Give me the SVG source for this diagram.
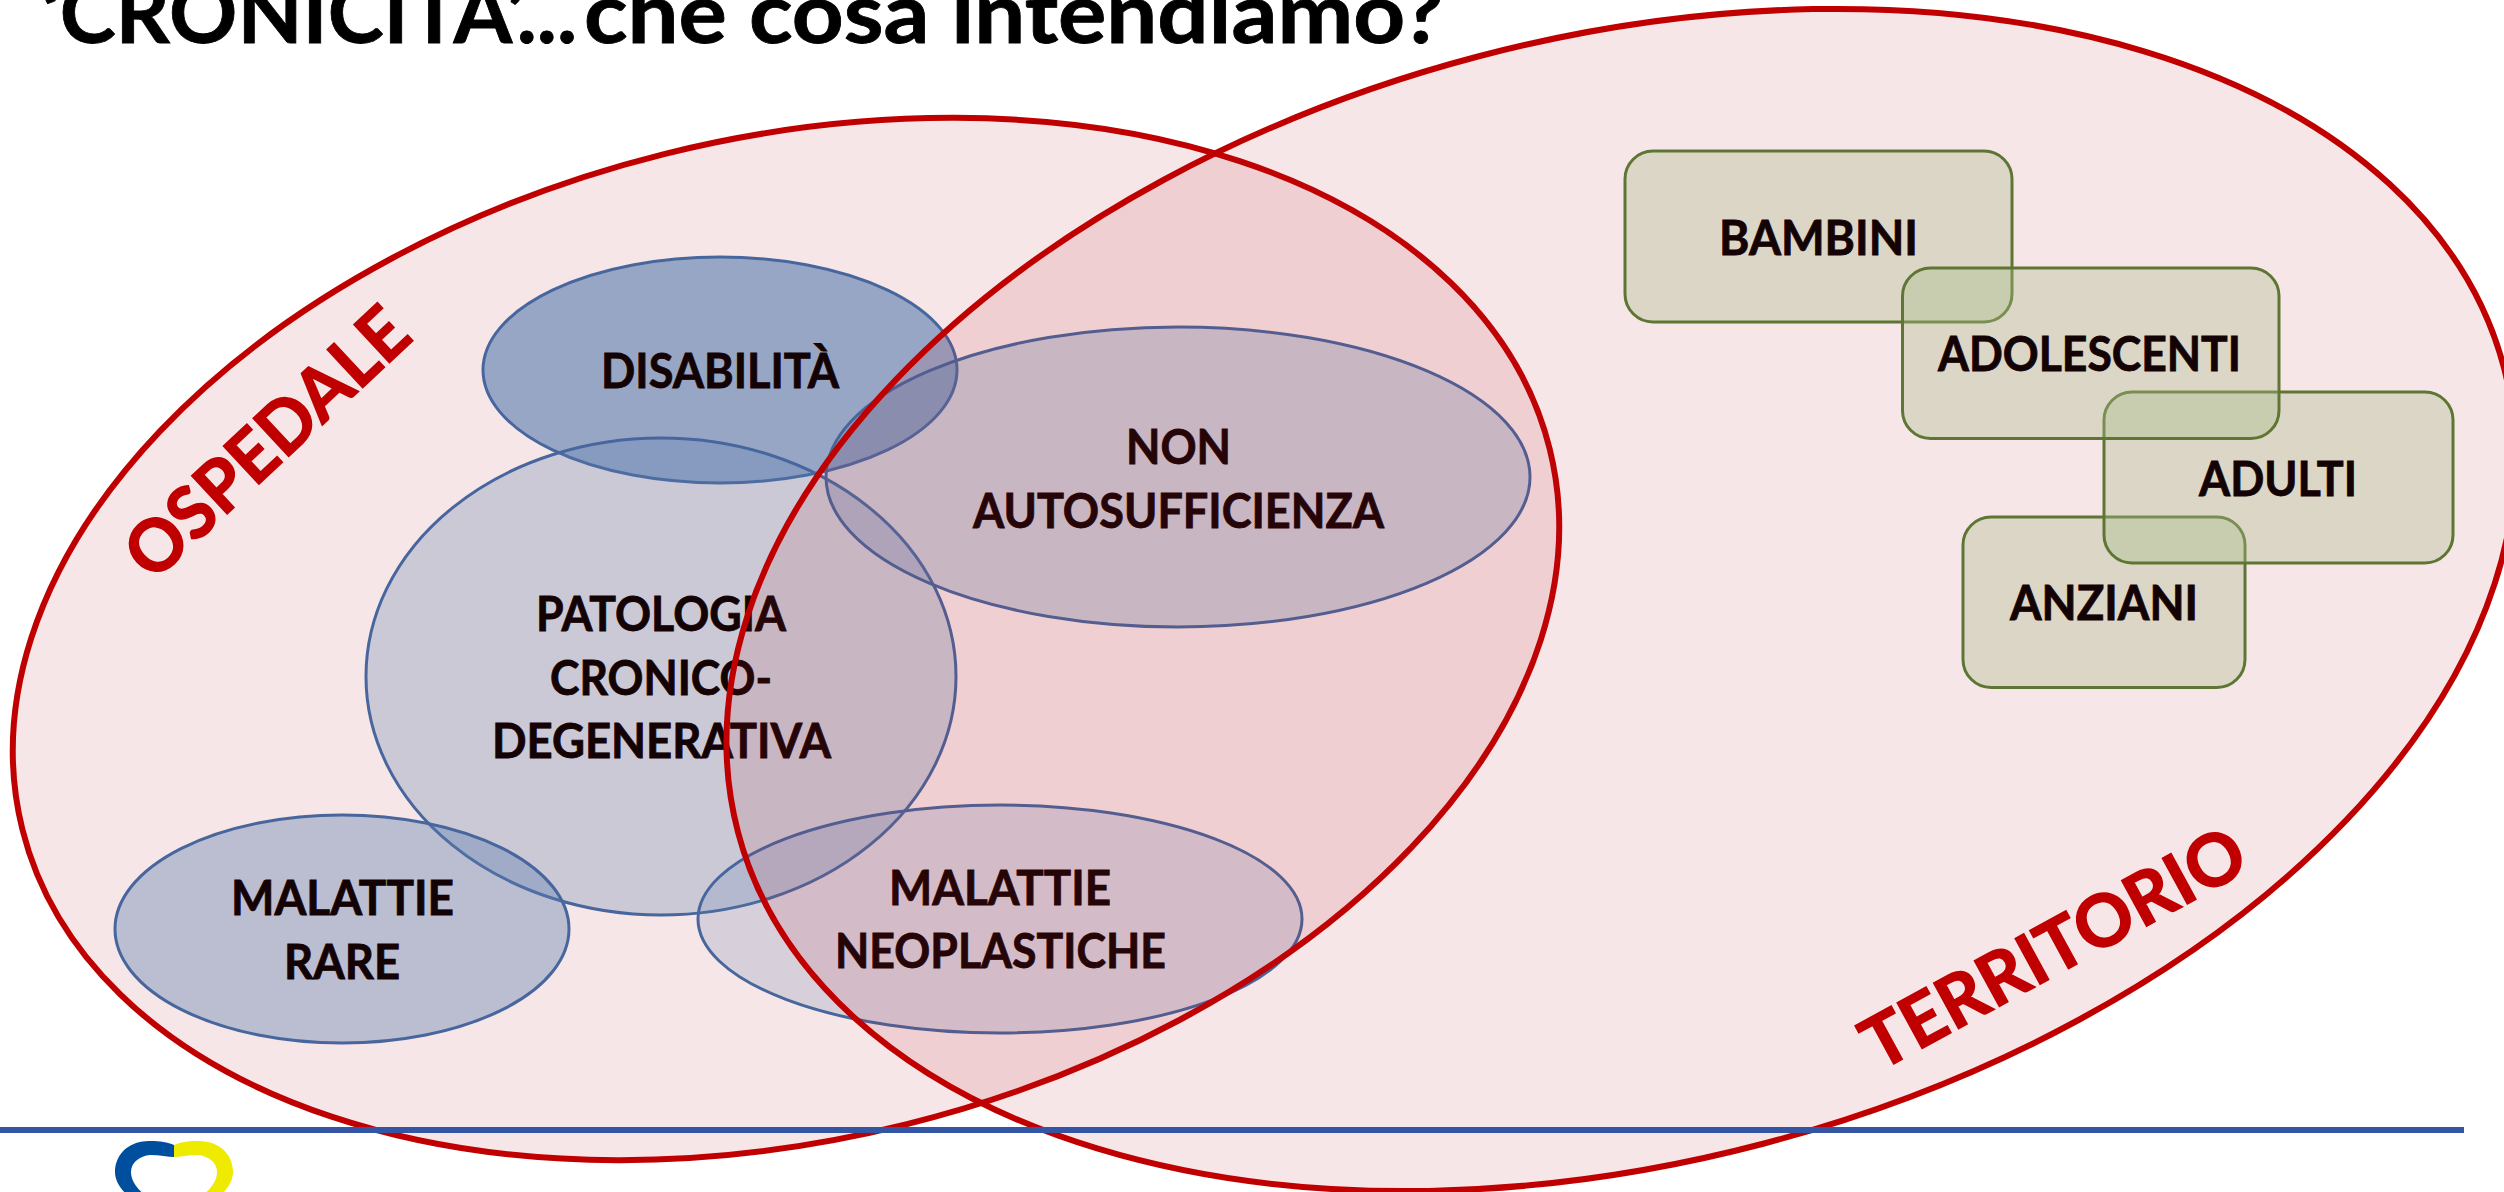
<svg xmlns="http://www.w3.org/2000/svg" width="2504" height="1192" viewBox="0 0 2504 1192">
<style>
text{font-family:Lato,"Liberation Sans",sans-serif;font-weight:700;fill:#000;stroke:#000;stroke-width:.8}
.l{font-size:47px}
.blue{fill:#4f88bf;stroke:#3a70ad;stroke-width:3}
.grp{fill:#a9d098;fill-opacity:.36;stroke:#548235;stroke-width:3}
.red{fill:#b41e26;fill-opacity:.11;stroke:#c00000;stroke-width:6}
.big{font-size:72px;fill:#c00000;stroke:#c00000;stroke-width:1.500}
</style>
<rect width="2504" height="1192" fill="#fff"/>
<g id="title"><text y="43" font-size="85"><tspan x="41" textLength="536" lengthAdjust="spacingAndGlyphs">‘CRONICITA’...</tspan><tspan x="584" textLength="860" lengthAdjust="spacingAndGlyphs">che cosa intendiamo?</tspan></text></g>
<g id="disabilita"><ellipse class="blue" fill-opacity=".6" cx="720" cy="370" rx="237" ry="113"/><text class="l" x="601" y="388" textLength="238" lengthAdjust="spacingAndGlyphs">DISABILITÀ</text></g>
<g id="patologia"><ellipse class="blue" fill-opacity=".27" cx="661" cy="676.500" rx="295" ry="238.500"/><text class="l" x="536" y="631" textLength="250" lengthAdjust="spacingAndGlyphs">PATOLOGIA</text><text class="l" x="550" y="695" textLength="222" lengthAdjust="spacingAndGlyphs">CRONICO-</text><text class="l" x="492" y="758" textLength="339" lengthAdjust="spacingAndGlyphs">DEGENERATIVA</text></g>
<g id="non-autosufficienza"><ellipse class="blue" fill-opacity=".27" cx="1178" cy="477" rx="352" ry="150"/><text class="l" x="1126" y="464" textLength="105" lengthAdjust="spacingAndGlyphs">NON</text><text class="l" x="973" y="528" textLength="411" lengthAdjust="spacingAndGlyphs">AUTOSUFFICIENZA</text></g>
<g id="malattie-rare"><ellipse class="blue" fill-opacity=".38" cx="342" cy="929" rx="227" ry="114"/><text class="l" x="231" y="915" textLength="223" lengthAdjust="spacingAndGlyphs">MALATTIE</text><text class="l" x="284" y="979" textLength="116" lengthAdjust="spacingAndGlyphs">RARE</text></g>
<g id="malattie-neoplastiche"><ellipse class="blue" fill-opacity=".2" cx="1000" cy="919" rx="302" ry="114"/><text class="l" x="889" y="905" textLength="222" lengthAdjust="spacingAndGlyphs">MALATTIE</text><text class="l" x="835" y="968" textLength="331" lengthAdjust="spacingAndGlyphs">NEOPLASTICHE</text></g>
<g id="bambini"><rect class="grp" x="1625" y="151" width="387" height="171" rx="28"/><text class="l" x="1719" y="255" textLength="199" lengthAdjust="spacingAndGlyphs">BAMBINI</text></g>
<g id="anziani"><rect class="grp" x="1963" y="517" width="282" height="170.500" rx="28"/><text class="l" x="2010" y="620" textLength="188" lengthAdjust="spacingAndGlyphs">ANZIANI</text></g>
<g id="adulti"><rect class="grp" x="2104" y="392" width="349" height="171" rx="28"/><text class="l" x="2199" y="495.500" textLength="158" lengthAdjust="spacingAndGlyphs">ADULTI</text></g>
<g id="adolescenti"><rect class="grp" x="1902.500" y="268" width="376.500" height="170.500" rx="28"/><text class="l" x="1938" y="371" textLength="303" lengthAdjust="spacingAndGlyphs">ADOLESCENTI</text></g>
<g id="ospedale"><ellipse class="red" cx="786" cy="639" rx="787" ry="500" transform="rotate(-14 786 639)"/><text class="big" transform="translate(153 583) rotate(-43)" textLength="358" lengthAdjust="spacingAndGlyphs">OSPEDALE</text></g>
<g id="territorio"><ellipse class="red" cx="1621" cy="600" rx="913" ry="562" transform="rotate(-14.750 1621 600)"/><text class="big" transform="translate(1879 1072) rotate(-28.600)" textLength="425" lengthAdjust="spacingAndGlyphs">TERRITORIO</text></g>
<g id="connectors"></g>
<g id="footer"><rect x="0" y="1127" width="2464" height="6" fill="#3454a4"/>
<path fill="#004f9f" d="M174 1145C165 1141 150 1140 140 1142C122 1146 115 1160 115 1172C115 1182 122 1190 128 1196L146 1196C136 1188 131 1180 131 1172C131 1162 140 1156 150 1155C160 1155 168 1157 174 1157Z"/>
<path fill="#eeea00" d="M174 1145C183 1141 198 1140 208 1142C226 1146 233 1160 233 1172C233 1182 226 1190 220 1196L202 1196C212 1188 217 1180 217 1172C217 1162 208 1156 198 1155C188 1155 180 1157 174 1157Z"/></g>
</svg>
